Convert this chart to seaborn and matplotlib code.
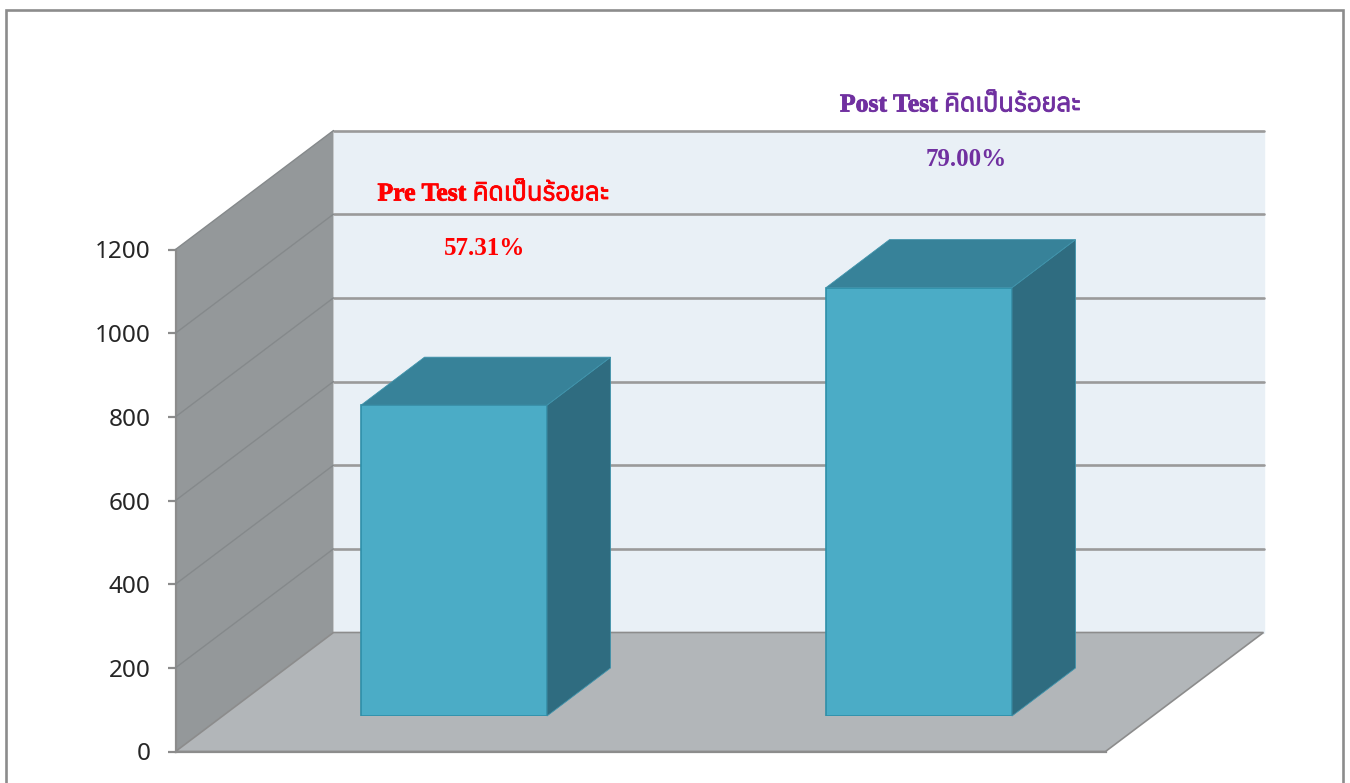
"""Pre test / post test faux-3D bar chart."""

import matplotlib.patheffects as pe
import matplotlib.pyplot as plt
import seaborn as sns
from matplotlib import font_manager
from matplotlib.ft2font import FT2Font
from matplotlib.patches import Rectangle

categories = ["Pre Test", "Post Test"]
values = [743, 1024]
y_ticks = [0, 200, 400, 600, 800, 1000, 1200]
label_titles = ["Pre Test คิดเป็นร้อยละ", "Post Test คิดเป็นร้อยละ"]
label_percents = ["57.31%", "79.00%"]
label_colors = ["#FF0000", "#7030A0"]

W, H = 1350, 783


def fx(px):
    return px / W


def fy(py):
    return 1 - py / H


def thai_fonts():
    """Find installed families that can draw Thai."""
    found = []
    for entry in font_manager.fontManager.ttflist:
        try:
            if FT2Font(entry.fname).get_char_index(ord("ค")):
                found.append(entry.name)
        except Exception:
            continue
    return sorted(set(found))


sns.set_theme(style="white")
text_family = ["Liberation Serif"] + thai_fonts() + ["DejaVu Sans"]
plt.rcParams["font.family"] = ["Noto Sans", "DejaVu Sans"]

fig = plt.figure(figsize=(W / 100, H / 100), dpi=100, facecolor="white")

# Outer frame runs off the bottom of the picture
fig.add_artist(
    Rectangle(
        (fx(6), fy(800)),
        fx(1337),
        fy(10) - fy(800),
        transform=fig.transFigure,
        fill=False,
        edgecolor="#8c8c8c",
        linewidth=1.9,
    )
)

# Axis plane, carries the y scale
ax = fig.add_axes([fx(175.5), fy(751.5), fx(930), fy(249.5) - fy(751.5)])
ax.patch.set_visible(False)
ax.set_xlim(-0.5, 1.5)
ax.set_ylim(0, 1200)
ax.set_xticks([])
ax.set_yticks(y_ticks)
ax.tick_params(
    axis="y", length=6, width=1.6, color="#8c8c8c", pad=12, labelsize=17.5, labelcolor="#262626", left=True
)
for side in ["top", "right"]:
    ax.spines[side].set_visible(False)
for side in ["left", "bottom"]:
    ax.spines[side].set_color("#8c8c8c")
    ax.spines[side].set_linewidth(1.6)

# Depth of the walls in data units
wall_dx = 158 / 465
wall_dy = 119 / (502 / 1200)
x_lo, x_hi = -0.5, 1.5
top = y_ticks[-1]

ax.fill(
    [x_lo + wall_dx, x_hi + wall_dx, x_hi + wall_dx, x_lo + wall_dx],
    [wall_dy, wall_dy, top + wall_dy, top + wall_dy],
    color="#E9F0F6",
    clip_on=False,
    zorder=1,
)
ax.fill(
    [x_lo, x_lo + wall_dx, x_lo + wall_dx, x_lo],
    [0, wall_dy, top + wall_dy, top],
    facecolor="#94989A",
    edgecolor="none",
    clip_on=False,
    zorder=2,
)
ax.fill(
    [x_lo, x_hi, x_hi + wall_dx, x_lo + wall_dx],
    [0, 0, wall_dy, wall_dy],
    facecolor="#B2B6B9",
    edgecolor="#8c8c8c",
    linewidth=1.2,
    clip_on=False,
    zorder=2,
)
for tick in y_ticks[1:]:
    ax.plot(
        [x_lo + wall_dx, x_hi + wall_dx],
        [tick + wall_dy, tick + wall_dy],
        color="#9a9a9a",
        linewidth=1.9,
        clip_on=False,
        zorder=3,
    )
    ax.plot(
        [x_lo, x_lo + wall_dx],
        [tick, tick + wall_dy],
        color="#85898b",
        linewidth=1.0,
        clip_on=False,
        zorder=3,
    )
ax.set_xlim(x_lo, x_hi)
ax.set_ylim(0, top)

# Bars sit on a plane pushed part way into the floor
bar_ax = fig.add_axes([fx(221.5), fy(716), fx(930), fy(214) - fy(716)])
bar_ax.patch.set_visible(False)
sns.barplot(
    x=categories,
    y=values,
    color="#4BACC6",
    saturation=1,
    width=0.4,
    edgecolor="#2F8FA8",
    linewidth=1.2,
    ax=bar_ax,
)
bar_dx = 63.5 / 465
bar_dy = 48 / (502 / 1200)
for bar in list(bar_ax.patches):
    x0, x1 = bar.get_x(), bar.get_x() + bar.get_width()
    h = bar.get_height()
    bar_ax.fill(
        [x1, x1 + bar_dx, x1 + bar_dx, x1],
        [0, bar_dy, h + bar_dy, h],
        facecolor="#2F6C80",
        edgecolor="#3F93AB",
        linewidth=0.6,
        clip_on=False,
        zorder=1,
    )
    bar_ax.fill(
        [x0, x1, x1 + bar_dx, x0 + bar_dx],
        [h, h, h + bar_dy, h + bar_dy],
        facecolor="#378299",
        edgecolor="#3F93AB",
        linewidth=0.6,
        clip_on=False,
        zorder=1,
    )
bar_ax.set_xlim(x_lo, x_hi)
bar_ax.set_ylim(0, top)
bar_ax.axis("off")

# Floating labels
title_pos = [(493, 194), (960, 105)]
percent_pos = [(485, 248), (966, 159)]
for i in range(len(categories)):
    title = fig.text(
        fx(title_pos[i][0]),
        fy(title_pos[i][1]),
        label_titles[i],
        color=label_colors[i],
        family=text_family,
        fontweight="bold",
        fontsize=18.5,
        ha="center",
        va="center",
    )
    # Thai family has no bold here, thicken the strokes
    title.set_path_effects(
        [pe.withStroke(linewidth=0.6, foreground=label_colors[i])]
    )
    fig.text(
        fx(percent_pos[i][0]),
        fy(percent_pos[i][1]),
        label_percents[i],
        color=label_colors[i],
        family=text_family,
        fontweight="bold",
        fontsize=18,
        ha="center",
        va="center",
    )

fig.savefig("out.png", dpi=100, facecolor="white")
